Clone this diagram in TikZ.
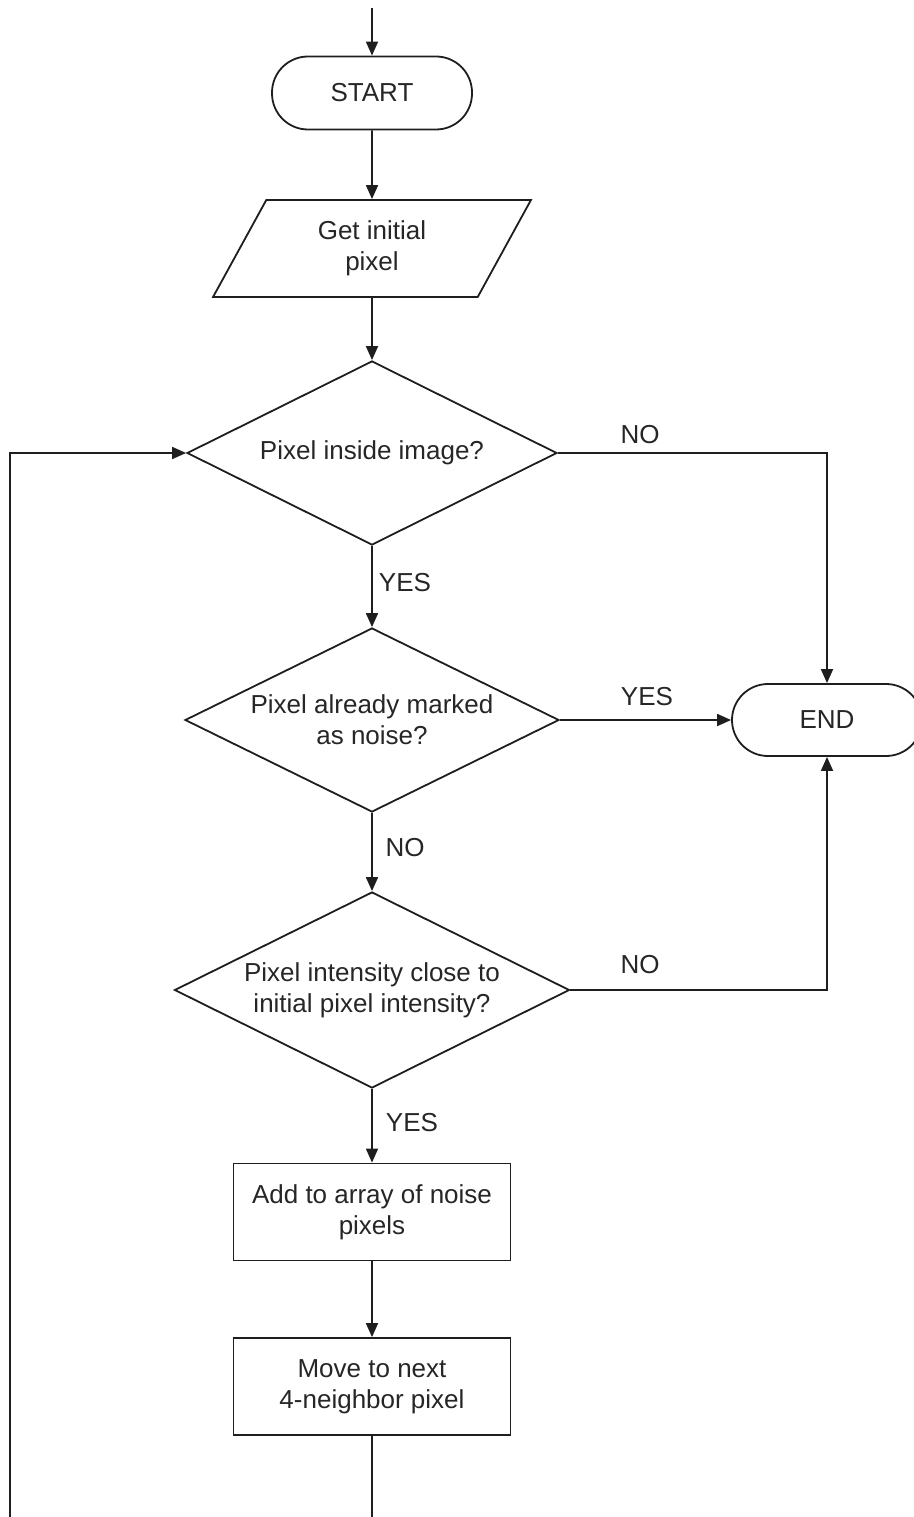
\documentclass[tikz,border=0pt]{standalone}
\usepackage{fontspec}
\setmainfont{Liberation Sans}
\usetikzlibrary{shapes.geometric,arrows.meta}
\definecolor{ink}{HTML}{1E1E1E}
\definecolor{txt}{HTML}{262626}
\begin{document}
\begin{tikzpicture}[x=1pt,y=-1pt,
  font=\fontsize{26}{31}\selectfont,
  every node/.style={text=txt, align=center},
  base/.style={draw=ink, line width=1.8pt, inner sep=0pt},
  terminal/.style={base, rectangle, rounded corners=36pt, minimum height=73pt},
  iobox/.style={base, trapezium, trapezium left angle=63.7, trapezium right angle=116.3,
                trapezium stretches=true, minimum width=318pt, minimum height=97pt},
  decision/.style={base, diamond, aspect=2},
  process/.style={base, rectangle, minimum width=277pt, minimum height=97pt},
  flow/.style={draw=ink, line width=1.8pt, -{Triangle[length=14pt,width=12pt]}},
  line/.style={draw=ink, line width=1.8pt},
  lbl/.style={inner sep=0pt}]
\useasboundingbox (0,0) rectangle (913,1517);

% nodes
\coordinate (entry) at (372,8);
\node[terminal, minimum width=200pt] (start) at (372,93) {START};
\node[iobox] (get) at (372,248.5) {Get initial\\pixel};
\node[decision, minimum width=370pt, minimum height=184pt] (inside) at (372,453) {Pixel inside image?};
\node[decision, minimum width=374pt, minimum height=184pt] (marked) at (372,720) {Pixel already marked\\as noise?};
\node[decision, minimum width=395pt, minimum height=196pt] (close) at (372,990) {Pixel intensity close to\\initial pixel intensity?};
\node[terminal, minimum width=190pt, minimum height=72pt] (end) at (827,720) {END};
\node[process] (add) at (372,1212) {Add to array of noise\\pixels};
\node[process] (move) at (372,1386.5) {Move to next\\4-neighbor pixel};

\coordinate (exit) at (372,1517);
\coordinate (loopbot) at (10,1517);
\coordinate (noA) at (827,453);
\coordinate (noB) at (827,990);

% connectors
\draw[flow] (entry) -- (start);
\draw[flow] (start) -- (get);
\draw[flow] (get) -- (inside);
\draw[flow] (inside) -- (marked);
\draw[flow] (marked) -- (close);
\draw[flow] (close) -- (add);
\draw[flow] (add) -- (move);
\draw[line] (move) -- (exit);
\draw[flow] (loopbot) |- (inside.west);
\draw[flow] (inside.east) -- (noA) -- (end.north);
\draw[flow] (marked.east) -- (end.west);
\draw[flow] (close.east) -- (noB) -- (end.south);

% branch labels
\node[lbl] at (640,435) {NO};
\node[lbl] at (405,583) {YES};
\node[lbl] at (647,697) {YES};
\node[lbl] at (405,848) {NO};
\node[lbl] at (640,965) {NO};
\node[lbl] at (412,1123) {YES};
\end{tikzpicture}
\end{document}
